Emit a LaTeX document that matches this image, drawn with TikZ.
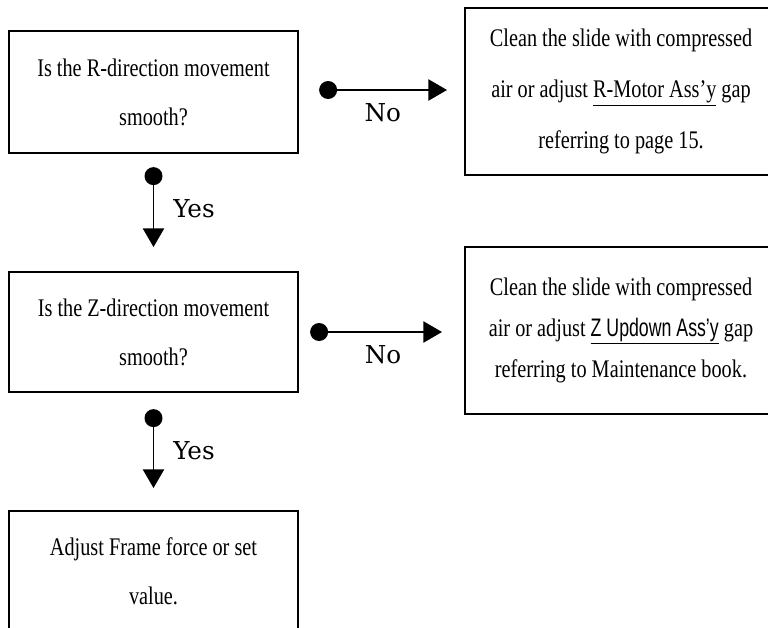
\documentclass[tikz,border=0pt]{standalone}
\usepackage{fontspec}
\newfontfamily\boxfont{Liberation Serif}[FakeStretch=0.8]
\newfontfamily\boxsans{Liberation Sans}[FakeStretch=0.7]
\newfontfamily\lblfont{DejaVu Serif}
\usetikzlibrary{arrows.meta,positioning}

\begin{document}
\begin{tikzpicture}[x=0.75pt,y=-0.75pt,
    box/.style={draw,line width=1.3pt,align=center,inner sep=0pt,minimum width=216.75pt,
      font=\boxfont\fontsize{19}{36.75}\selectfont},
    fixbox/.style={box,minimum width=234pt,minimum height=125.25pt},
    lbl/.style={font=\lblfont\fontsize{18.5}{22}\selectfont},
    dot/.style={circle,fill,inner sep=0pt,minimum size=13.5pt},
    flow/.style={line width=1pt,-{Triangle[length=14pt,width=16pt]}}]
  \clip (0,0) rectangle (768,628);

  % questions and actions
  \node[box,minimum height=91.5pt] (qr) at (153.5,92) {Is the R-direction movement\\smooth?};
  \node[fixbox,font=\boxfont\fontsize{19}{38.5}\selectfont] (fr) at (621,91.5)
    {Clean the slide with compressed\\air or adjust \underline{R-Motor Ass’y} gap\\referring to page 15.};
  \node[box,minimum height=90pt] (qz) at (153.5,332) {Is the Z-direction movement\\smooth?};
  \node[fixbox,font=\boxfont\fontsize{19}{30.75}\selectfont] (fz) at (621,330.5)
    {Clean the slide with compressed\\air or adjust \underline{\boxsans Z Updown Ass’y} gap\\referring to Maintenance book.};
  \node[box,minimum height=90.75pt] (fe) at (153.5,571.5) {Adjust Frame force or set\\value.};

  % branch points
  \node[dot,right=15pt of qr,yshift=1.5pt] (nr) {};
  \node[dot,below=9.75pt of qr] (yr) {};
  \node[dot,right=8.25pt of qz] (nz) {};
  \node[dot,below=12pt of qz] (yz) {};
  \coordinate (nrt) at (447,90);
  \coordinate (yrt) at (153.5,247);
  \coordinate (nzt) at (442,332);
  \coordinate (yzt) at (153.5,488);

  \draw[flow] (nr.center) -- node[lbl,pos=0.46,below=6pt] {No} (nrt);
  \draw[flow] (yr.center) -- node[lbl,pos=0.46,right=11pt] {Yes} (yrt);
  \draw[flow] (nz.center) -- node[lbl,pos=0.52,below=6pt] {No} (nzt);
  \draw[flow] (yz.center) -- node[lbl,pos=0.46,right=11pt] {Yes} (yzt);
\end{tikzpicture}
\end{document}
